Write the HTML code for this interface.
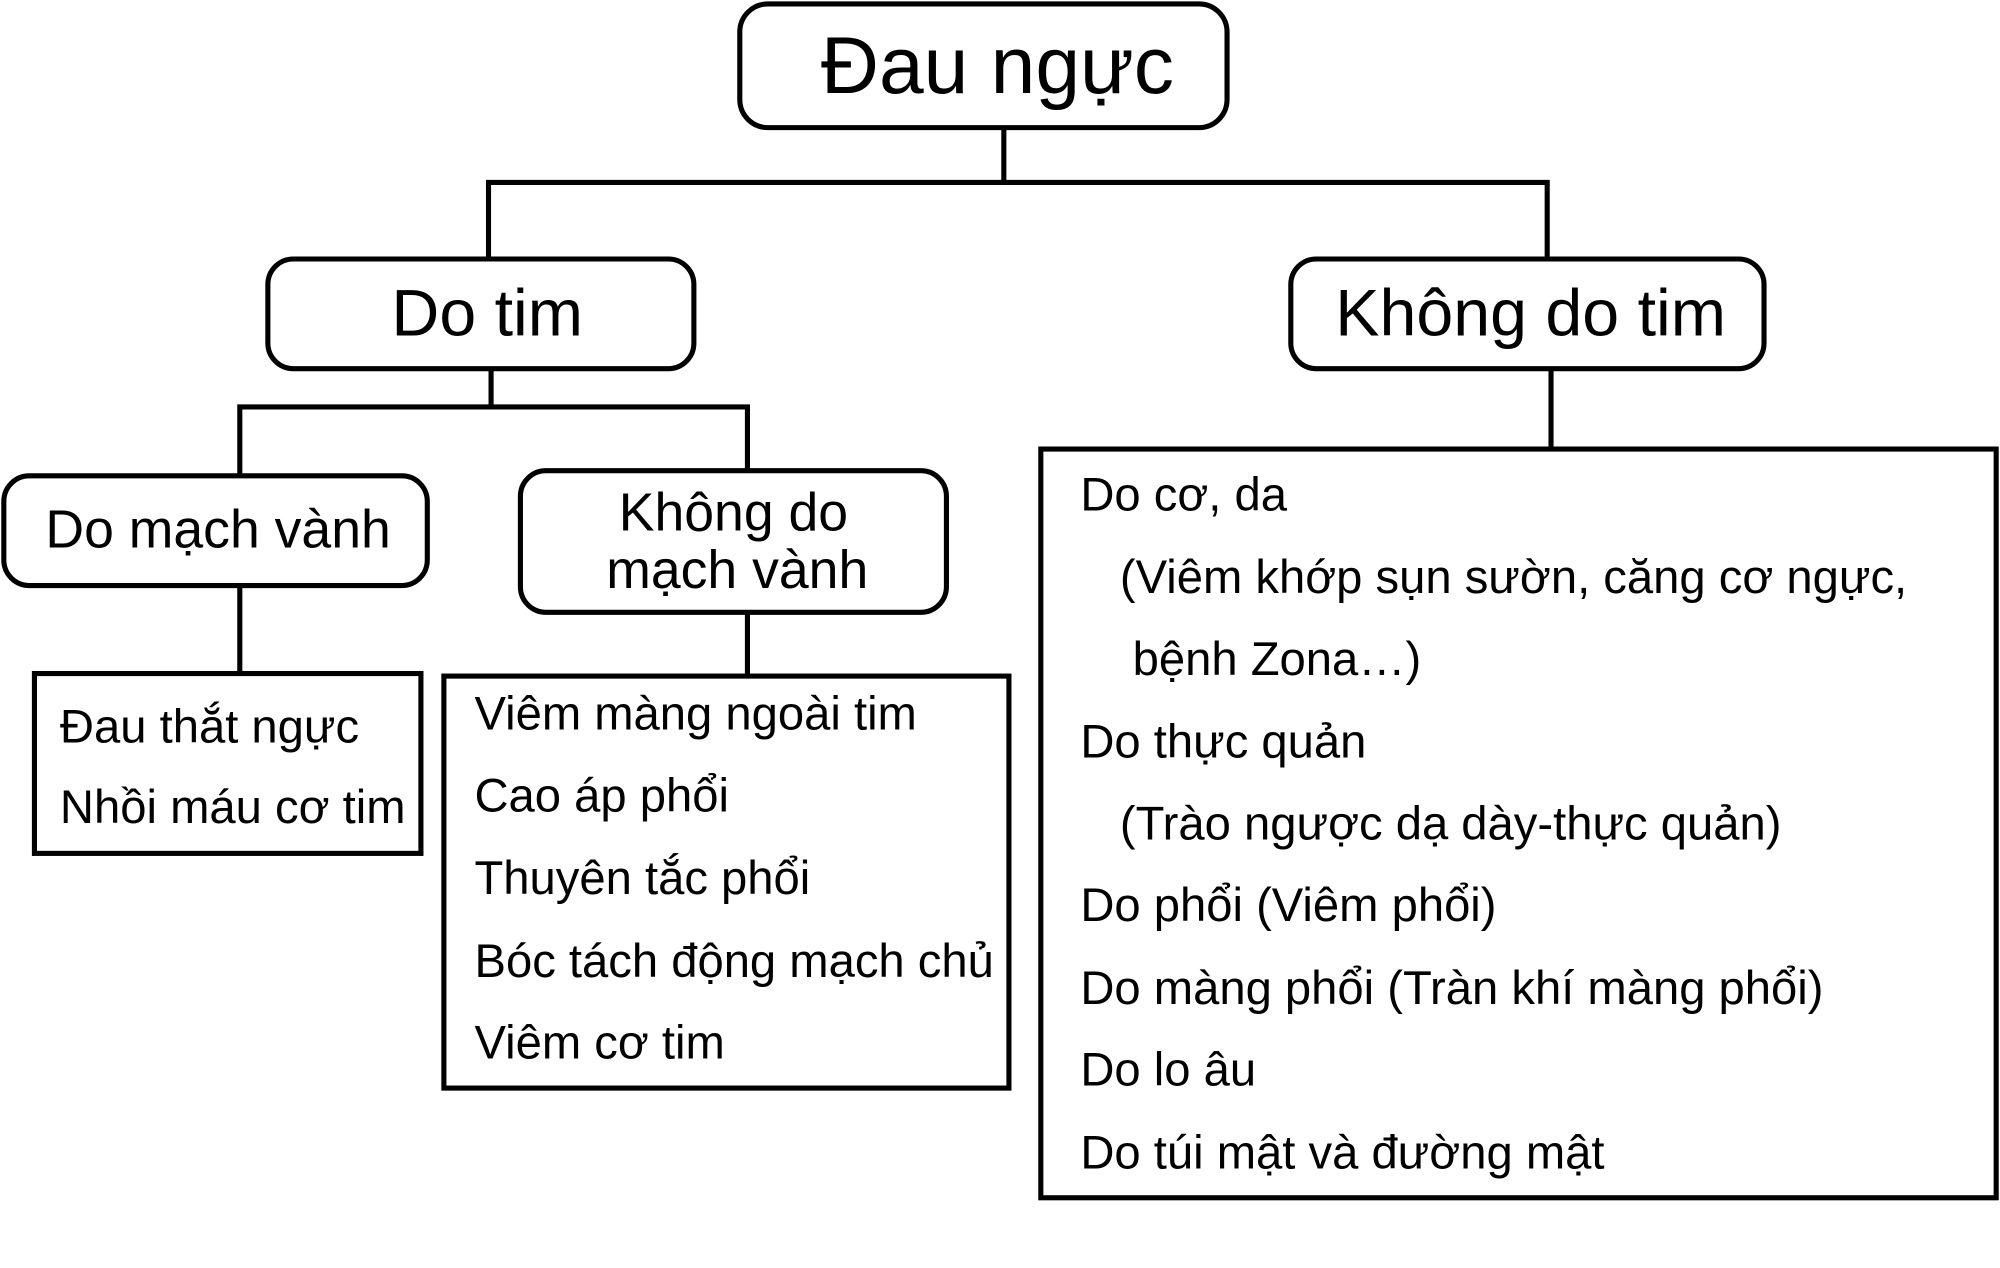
<!DOCTYPE html>
<html><head><meta charset="utf-8"><style>
html,body{margin:0;padding:0;background:#fff;}
svg{display:block;}
text{font-family:"Liberation Sans",sans-serif;fill:#000;}
</style></head><body>
<svg width="2000" height="1268" viewBox="0 0 1568 994" xmlns="http://www.w3.org/2000/svg">
<g fill="none" stroke="#000" stroke-width="4">
<rect x="580" y="3" width="382" height="97" rx="22"/>
<path d="M787 100V143M383 143H1215M383 141V203M1213 141V203"/>
<rect x="210" y="203" width="334" height="86" rx="20"/>
<rect x="1012" y="203" width="371" height="86" rx="20"/>
<path d="M385 289V319M188 319H586M188 317V373M586 317V369"/>
<rect x="3" y="373" width="332" height="86" rx="20"/>
<rect x="408" y="369" width="334" height="111" rx="20"/>
<path d="M188 459V528M586 480V530M1216 289V353"/>
<rect x="27" y="528" width="303" height="141"/>
<rect x="348" y="530" width="443" height="323"/>
<rect x="816" y="352" width="749" height="587"/>
</g>
<text x="782" y="73" font-size="63" text-anchor="middle">Đau ngực</text>
<text x="382" y="263" font-size="52" text-anchor="middle">Do tim</text>
<text x="1200" y="263" font-size="52" text-anchor="middle">Không do tim</text>
<text x="171" y="429" font-size="42" text-anchor="middle">Do mạch vành</text>
<text x="575" y="416" font-size="42" text-anchor="middle">Không do</text>
<text x="578" y="461" font-size="42" text-anchor="middle">mạch vành</text>
<g font-size="37">
<text x="47" y="582">Đau thắt ngực</text>
<text x="47" y="645">Nhồi máu cơ tim</text>
<text x="372" y="572">Viêm màng ngoài tim</text>
<text x="372" y="636">Cao áp phổi</text>
<text x="372" y="701">Thuyên tắc phổi</text>
<text x="372" y="766">Bóc tách động mạch chủ</text>
<text x="372" y="830">Viêm cơ tim</text>
<text x="847" y="400">Do cơ, da</text>
<text x="878" y="465">(Viêm khớp sụn sườn, căng cơ ngực,</text>
<text x="888" y="529">bệnh Zona…)</text>
<text x="847" y="594">Do thực quản</text>
<text x="878" y="658">(Trào ngược dạ dày-thực quản)</text>
<text x="847" y="722">Do phổi (Viêm phổi)</text>
<text x="847" y="787">Do màng phổi (Tràn khí màng phổi)</text>
<text x="847" y="851">Do lo âu</text>
<text x="847" y="916">Do túi mật và đường mật</text>
</g>
</svg>
</body></html>
